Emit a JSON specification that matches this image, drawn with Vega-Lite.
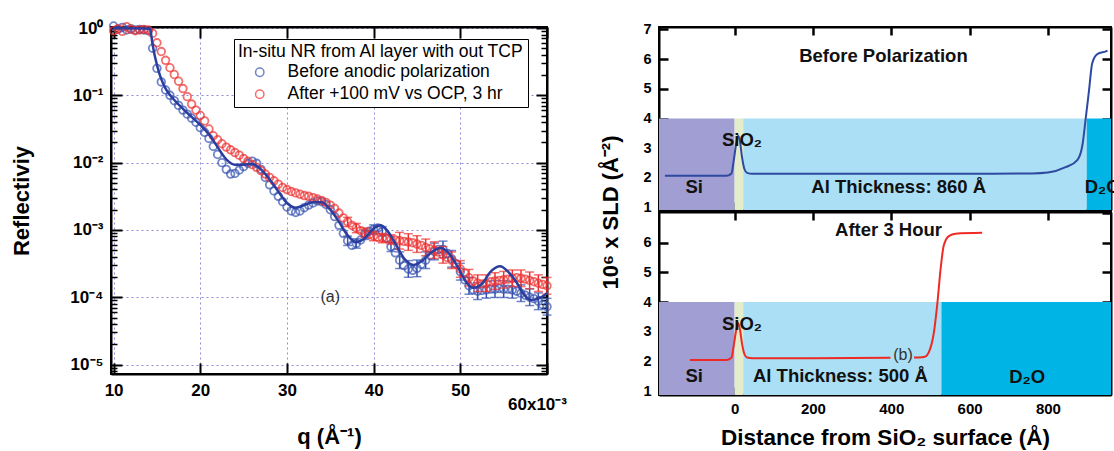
{
  "$schema": "https://vega.github.io/schema/vega-lite/v6.json",
  "padding": {"left": 9, "top": 17, "right": 0, "bottom": 0},
  "background": "white",
  "config": {
    "font": "Liberation Sans",
    "view": {"stroke": "black", "strokeWidth": 2},
    "axis": {"labelColor": "black", "titleColor": "black", "tickColor": "black", "domainColor": "black", "labelFontWeight": "bold", "titleFontWeight": "bold", "labelFont": "Liberation Sans", "titleFont": "Liberation Sans", "zindex": 1}
  },
  "datasets": {
    "blue": [{"q":10,"R":1.072},{"q":10.5,"R":0.955},{"q":11,"R":1.023},{"q":11.5,"R":0.933},{"q":12,"R":0.977},{"q":12.5,"R":0.933},{"q":13,"R":0.955},{"q":13.5,"R":0.933},{"q":14,"R":0.912},{"q":14.5,"R":0.501},{"q":15,"R":0.251},{"q":15.5,"R":0.158},{"q":16,"R":0.12},{"q":16.5,"R":0.1},{"q":17,"R":0.0832},{"q":17.5,"R":0.0708},{"q":18,"R":0.0603},{"q":18.5,"R":0.0525},{"q":19,"R":0.0457},{"q":19.5,"R":0.0398},{"q":20,"R":0.0331},{"q":20.5,"R":0.0282},{"q":21,"R":0.0229},{"q":21.5,"R":0.0174},{"q":22,"R":0.0132},{"q":22.5,"R":0.01},{"q":23,"R":0.00794},{"q":23.5,"R":0.00676},{"q":24,"R":0.00692},{"q":24.5,"R":0.00776},{"q":25,"R":0.00871},{"q":25.5,"R":0.00977},{"q":26,"R":0.0105},{"q":26.5,"R":0.00977},{"q":27,"R":0.00794},{"q":27.5,"R":0.00603},{"q":28,"R":0.00468},{"q":28.5,"R":0.0038},{"q":29,"R":0.00316},{"q":29.5,"R":0.00263},{"q":30,"R":0.00219},{"q":30.5,"R":0.00191},{"q":31,"R":0.00182},{"q":31.5,"R":0.00191},{"q":32,"R":0.00214},{"q":32.5,"R":0.00234},{"q":33,"R":0.00251},{"q":33.5,"R":0.00269},{"q":34,"R":0.00263},{"q":34.5,"R":0.0024},{"q":35,"R":0.002},{"q":35.5,"R":0.00158},{"q":36,"R":0.00117},{"q":36.5,"R":0.000891},{"q":37,"R":0.000692},{"q":37.5,"R":0.000589},{"q":38,"R":0.000631},{"q":38.5,"R":0.000708},{"q":39,"R":0.000851},{"q":39.5,"R":0.000955},{"q":40,"R":0.00102},{"q":40.5,"R":0.00107},{"q":41,"R":0.000955},{"q":41.5,"R":0.000759},{"q":42,"R":0.000562},{"q":42.5,"R":0.000457},{"q":43,"R":0.000355},{"q":43.5,"R":0.000295},{"q":44,"R":0.000263},{"q":44.5,"R":0.000251},{"q":45,"R":0.000269},{"q":45.5,"R":0.000309},{"q":46,"R":0.000355},{"q":46.5,"R":0.000417},{"q":47,"R":0.000479},{"q":47.5,"R":0.000513},{"q":48,"R":0.000513},{"q":48.5,"R":0.000447},{"q":49,"R":0.000372},{"q":49.5,"R":0.000316},{"q":50,"R":0.00024},{"q":50.5,"R":0.000182},{"q":51,"R":0.000148},{"q":51.5,"R":0.000129},{"q":52,"R":0.000123},{"q":52.5,"R":0.000126},{"q":53,"R":0.000129},{"q":53.5,"R":0.000132},{"q":54,"R":0.000132},{"q":54.5,"R":0.000135},{"q":55,"R":0.000132},{"q":55.5,"R":0.000132},{"q":56,"R":0.000129},{"q":56.5,"R":0.000123},{"q":57,"R":0.000115},{"q":57.5,"R":0.000107},{"q":58,"R":0.0001},{"q":58.5,"R":0.0000955},{"q":59,"R":0.0000871},{"q":59.5,"R":0.0000776},{"q":60,"R":0.0000724}],
    "red": [{"q":10,"R":0.912},{"q":10.5,"R":0.977},{"q":11,"R":0.891},{"q":11.5,"R":1.047},{"q":12,"R":0.955},{"q":12.5,"R":0.912},{"q":13,"R":0.933},{"q":13.5,"R":0.955},{"q":14,"R":0.933},{"q":14.5,"R":0.832},{"q":15,"R":0.603},{"q":15.5,"R":0.447},{"q":16,"R":0.331},{"q":16.5,"R":0.257},{"q":17,"R":0.204},{"q":17.5,"R":0.162},{"q":18,"R":0.126},{"q":18.5,"R":0.0955},{"q":19,"R":0.0741},{"q":19.5,"R":0.0603},{"q":20,"R":0.0501},{"q":20.5,"R":0.0417},{"q":21,"R":0.0316},{"q":21.5,"R":0.0251},{"q":22,"R":0.0219},{"q":22.5,"R":0.0191},{"q":23,"R":0.017},{"q":23.5,"R":0.0155},{"q":24,"R":0.0141},{"q":24.5,"R":0.0129},{"q":25,"R":0.0115},{"q":25.5,"R":0.0105},{"q":26,"R":0.00933},{"q":26.5,"R":0.00851},{"q":27,"R":0.00759},{"q":27.5,"R":0.00676},{"q":28,"R":0.00603},{"q":28.5,"R":0.00537},{"q":29,"R":0.00479},{"q":29.5,"R":0.00427},{"q":30,"R":0.00398},{"q":30.5,"R":0.00372},{"q":31,"R":0.00355},{"q":31.5,"R":0.00339},{"q":32,"R":0.00324},{"q":32.5,"R":0.00316},{"q":33,"R":0.00302},{"q":33.5,"R":0.00288},{"q":34,"R":0.00275},{"q":34.5,"R":0.00257},{"q":35,"R":0.00234},{"q":35.5,"R":0.00209},{"q":36,"R":0.00178},{"q":36.5,"R":0.00151},{"q":37,"R":0.00132},{"q":37.5,"R":0.00117},{"q":38,"R":0.00107},{"q":38.5,"R":0.000977},{"q":39,"R":0.000912},{"q":39.5,"R":0.000851},{"q":40,"R":0.000813},{"q":40.5,"R":0.000776},{"q":41,"R":0.000759},{"q":41.5,"R":0.000741},{"q":42,"R":0.000724},{"q":42.5,"R":0.000708},{"q":43,"R":0.000692},{"q":43.5,"R":0.000676},{"q":44,"R":0.000661},{"q":44.5,"R":0.000646},{"q":45,"R":0.000617},{"q":45.5,"R":0.000589},{"q":46,"R":0.00055},{"q":46.5,"R":0.000525},{"q":47,"R":0.000501},{"q":47.5,"R":0.000468},{"q":48,"R":0.000427},{"q":48.5,"R":0.000389},{"q":49,"R":0.000355},{"q":49.5,"R":0.000309},{"q":50,"R":0.000263},{"q":50.5,"R":0.000229},{"q":51,"R":0.000195},{"q":51.5,"R":0.000174},{"q":52,"R":0.000162},{"q":52.5,"R":0.000158},{"q":53,"R":0.000162},{"q":53.5,"R":0.00017},{"q":54,"R":0.000174},{"q":54.5,"R":0.000178},{"q":55,"R":0.000182},{"q":55.5,"R":0.000186},{"q":56,"R":0.000191},{"q":56.5,"R":0.000195},{"q":57,"R":0.000191},{"q":57.5,"R":0.000186},{"q":58,"R":0.000178},{"q":58.5,"R":0.00017},{"q":59,"R":0.000162},{"q":59.5,"R":0.000155},{"q":60,"R":0.000148}],
    "errBlue": [{"q":37,"lo":0.000588,"hi":0.00081},{"q":38,"lo":0.000536,"hi":0.000738},{"q":39,"lo":0.000723,"hi":0.000996},{"q":40,"lo":0.000867,"hi":0.00119},{"q":41,"lo":0.000812,"hi":0.00112},{"q":42,"lo":0.000478,"hi":0.000658},{"q":43,"lo":0.000267,"hi":0.000472},{"q":44,"lo":0.000198,"hi":0.00035},{"q":45,"lo":0.000202,"hi":0.000358},{"q":46,"lo":0.000267,"hi":0.000472},{"q":47,"lo":0.00036,"hi":0.000637},{"q":48,"lo":0.000386,"hi":0.000682},{"q":49,"lo":0.00028,"hi":0.000495},{"q":50,"lo":0.00018,"hi":0.000319},{"q":51,"lo":0.000111,"hi":0.000197},{"q":52,"lo":0.0000925,"hi":0.000164},{"q":53,"lo":0.000097,"hi":0.000172},{"q":54,"lo":0.0000992,"hi":0.000176},{"q":55,"lo":0.0000992,"hi":0.000176},{"q":56,"lo":0.000097,"hi":0.000172},{"q":57,"lo":0.0000865,"hi":0.000153},{"q":58,"lo":0.0000752,"hi":0.000133},{"q":59,"lo":0.0000655,"hi":0.000116},{"q":60,"lo":0.0000544,"hi":0.0000963}],
    "errRed": [{"q":37,"lo":0.00112,"hi":0.00154},{"q":38,"lo":0.00091,"hi":0.00125},{"q":39,"lo":0.000775,"hi":0.00107},{"q":40,"lo":0.000691,"hi":0.000951},{"q":41,"lo":0.000645,"hi":0.000888},{"q":42,"lo":0.000615,"hi":0.000847},{"q":43,"lo":0.00052,"hi":0.00092},{"q":44,"lo":0.000497,"hi":0.000879},{"q":45,"lo":0.000464,"hi":0.000821},{"q":46,"lo":0.000414,"hi":0.000732},{"q":47,"lo":0.000377,"hi":0.000666},{"q":48,"lo":0.000321,"hi":0.000568},{"q":49,"lo":0.000267,"hi":0.000472},{"q":50,"lo":0.000198,"hi":0.00035},{"q":51,"lo":0.000147,"hi":0.000259},{"q":52,"lo":0.000122,"hi":0.000215},{"q":53,"lo":0.000122,"hi":0.000215},{"q":54,"lo":0.000131,"hi":0.000231},{"q":55,"lo":0.000137,"hi":0.000242},{"q":56,"lo":0.000144,"hi":0.000254},{"q":57,"lo":0.000144,"hi":0.000254},{"q":58,"lo":0.000134,"hi":0.000237},{"q":59,"lo":0.000122,"hi":0.000215},{"q":60,"lo":0.000111,"hi":0.000197}],
    "fit": [{"q":10,"R":1},{"q":14.2,"R":0.977},{"q":14.5,"R":0.562},{"q":15,"R":0.282},{"q":15.5,"R":0.174},{"q":16,"R":0.126},{"q":17,"R":0.0851},{"q":18,"R":0.0631},{"q":19,"R":0.0479},{"q":20,"R":0.0363},{"q":21,"R":0.0263},{"q":22,"R":0.017},{"q":23,"R":0.0112},{"q":24,"R":0.00933},{"q":25,"R":0.00933},{"q":26,"R":0.00955},{"q":27,"R":0.00794},{"q":28,"R":0.00562},{"q":29,"R":0.00372},{"q":30,"R":0.00251},{"q":31,"R":0.00214},{"q":32,"R":0.00234},{"q":33,"R":0.00257},{"q":34,"R":0.00257},{"q":35,"R":0.002},{"q":36,"R":0.00132},{"q":37,"R":0.000832},{"q":38,"R":0.000661},{"q":39,"R":0.000759},{"q":40,"R":0.00105},{"q":40.8,"R":0.00117},{"q":41.5,"R":0.001},{"q":42.5,"R":0.000631},{"q":43.5,"R":0.00038},{"q":44.6,"R":0.000302},{"q":45.5,"R":0.000339},{"q":46.5,"R":0.000447},{"q":47.7,"R":0.000537},{"q":48.7,"R":0.000447},{"q":49.7,"R":0.000282},{"q":50.7,"R":0.000166},{"q":51.5,"R":0.000138},{"q":52.5,"R":0.000158},{"q":53.5,"R":0.00024},{"q":54.6,"R":0.000288},{"q":55.5,"R":0.00024},{"q":56.5,"R":0.000166},{"q":57.3,"R":0.000112},{"q":58.1,"R":0.0000912},{"q":59,"R":0.0000955},{"q":60,"R":0.000115}],
    "regTop": [{"layer":"Si","x0":-193,"x1":0,"lo":0.92,"hi":4.0},{"layer":"SiO2","x0":0,"x1":22,"lo":0.92,"hi":4.0},{"layer":"Al","x0":22,"x1":899,"lo":0.92,"hi":4.0},{"layer":"D2O","x0":899,"x1":961,"lo":0.92,"hi":4.0}],
    "regBot": [{"layer":"Si","x0":-193,"x1":0,"lo":0.87,"hi":4.0},{"layer":"SiO2","x0":0,"x1":22,"lo":0.87,"hi":4.0},{"layer":"Al","x0":22,"x1":528,"lo":0.87,"hi":4.0},{"layer":"D2O","x0":528,"x1":961,"lo":0.87,"hi":4.0}],
    "sldTop": [{"z":-178,"v":2.07},{"z":-100,"v":2.07},{"z":-20,"v":2.07},{"z":-8,"v":2.15},{"z":-2,"v":2.6},{"z":4,"v":3.15},{"z":9,"v":3.42},{"z":14,"v":3.2},{"z":19,"v":2.7},{"z":25,"v":2.3},{"z":32,"v":2.17},{"z":45,"v":2.14},{"z":300,"v":2.14},{"z":600,"v":2.14},{"z":760,"v":2.15},{"z":800,"v":2.18},{"z":845,"v":2.36},{"z":875,"v":2.6},{"z":888,"v":3.1},{"z":896,"v":3.95},{"z":905,"v":4.96},{"z":913,"v":5.86},{"z":926,"v":6.17},{"z":948,"v":6.26},{"z":952,"v":6.28}],
    "sldBot": [{"seg":1,"z":-114,"v":2.05},{"seg":1,"z":-20,"v":2.05},{"seg":1,"z":-8,"v":2.12},{"seg":1,"z":-2,"v":2.55},{"seg":1,"z":4,"v":3.05},{"seg":1,"z":9,"v":3.29},{"seg":1,"z":14,"v":3.05},{"seg":1,"z":19,"v":2.6},{"seg":1,"z":25,"v":2.25},{"seg":1,"z":32,"v":2.13},{"seg":1,"z":45,"v":2.11},{"seg":1,"z":200,"v":2.11},{"seg":1,"z":398,"v":2.12},{"seg":2,"z":458,"v":2.13},{"seg":2,"z":478,"v":2.14},{"seg":2,"z":488,"v":2.17},{"seg":2,"z":496,"v":2.31},{"seg":2,"z":509,"v":2.99},{"seg":2,"z":518,"v":4.0},{"seg":2,"z":526,"v":5.12},{"seg":2,"z":534,"v":5.9},{"seg":2,"z":547,"v":6.22},{"seg":2,"z":564,"v":6.3},{"seg":2,"z":632,"v":6.33}]
  },
  "resolve": {"scale": {"color": "independent"}},
  "bounds": "flush",
  "spacing": 112,
  "hconcat": [
    {
      "width": 436,
      "height": 347,
      "layer": [
        {
          "data": {"name": "blue"},
          "mark": {"type": "point", "filled": false, "size": 58, "strokeWidth": 1.8},
          "encoding": {
            "x": {"field": "q", "type": "quantitative", "scale": {"domain": [9.7, 60], "nice": false, "zero": false},
              "axis": {"orient": "bottom", "values": [10, 20, 30, 40, 50, 60], "title": "q (Å⁻¹)", "titleFontSize": 22, "titlePadding": 14,
                "labelFontSize": 17, "labelFlush": false, "labelExpr": "datum.value == 60 ? '60x10⁻³' : datum.label",
                "labelOffset": {"condition": {"test": "datum.value == 60", "value": -10}, "value": 0},
                "labelPadding": {"condition": {"test": "datum.value == 60", "value": 33}, "value": 19},
                "tickSize": -11, "tickWidth": 2, "grid": true, "gridColor": "#8c8cd8", "gridDash": [2, 3], "gridWidth": 1,
                "domain": true, "domainWidth": 2}},
            "y": {"field": "R", "type": "quantitative", "scale": {"type": "log", "domain": [0.00000724, 1.035], "nice": false},
              "axis": {"orient": "left", "values": [0.000008,0.000009,0.00001,0.00002,0.00003,0.00004,0.00005,0.00006,0.00007,0.00008,0.00009,0.0001,0.0002,0.0003,0.0004,0.0005,0.0006,0.0007,0.0008,0.0009,0.001,0.002,0.003,0.004,0.005,0.006,0.007,0.008,0.009,0.01,0.02,0.03,0.04,0.05,0.06,0.07,0.08,0.09,0.1,0.2,0.3,0.4,0.5,0.6,0.7,0.8,0.9,1],
                "labelExpr": "abs(log(datum.value)/LN10 - round(log(datum.value)/LN10)) < 0.001 ? '10' + ['⁰','⁻¹','⁻²','⁻³','⁻⁴','⁻⁵'][-round(log(datum.value)/LN10)] : ''",
                "labelOverlap": false, "labelFontSize": 17, "labelPadding": 19,
                "tickSize": {"condition": {"test": "abs(log(datum.value)/LN10 - round(log(datum.value)/LN10)) < 0.001", "value": -11}, "value": -6},
                "tickWidth": {"condition": {"test": "abs(log(datum.value)/LN10 - round(log(datum.value)/LN10)) < 0.001", "value": 2}, "value": 1.5},
                "grid": true, "gridColor": "#8c8cd8", "gridDash": [2, 3], "gridWidth": 1,
                "gridOpacity": {"condition": {"test": "abs(log(datum.value)/LN10 - round(log(datum.value)/LN10)) < 0.001", "value": 1}, "value": 0},
                "title": "Reflectiviy", "titleFontSize": 22, "titlePadding": 36, "domain": true, "domainWidth": 2}},
            "color": {"datum": "Before anodic polarization", "type": "nominal",
              "scale": {"domain": ["Before anodic polarization", "After +100 mV vs OCP, 3 hr"], "range": ["#3552b0", "#ee3030"]},
              "legend": {"orient": "none", "legendX": 123, "legendY": 12, "title": "In-situ NR from Al layer with out TCP",
                "titleFontSize": 17.5, "titleFontWeight": "normal", "titleFont": "Liberation Sans", "titleColor": "black", "titlePadding": 3, "titleLimit": 500,
                "labelFontSize": 17.5, "labelFont": "Liberation Sans", "labelColor": "black", "labelOffset": 19, "labelLimit": 500,
                "symbolType": "circle", "symbolSize": 70, "symbolStrokeWidth": 1.5, "symbolOffset": 13,
                "strokeColor": "black", "fillColor": "white", "padding": 4, "rowPadding": 3}}
          }
        },
        {
          "data": {"name": "errBlue"},
          "mark": {"type": "errorbar", "color": "#3552b0", "ticks": {"size": 9, "strokeWidth": 1.5}, "thickness": 1.5},
          "encoding": {
            "x": {"field": "q", "type": "quantitative", "axis": null},
            "y": {"field": "lo", "type": "quantitative", "axis": null, "title": null},
            "y2": {"field": "hi"}
          }
        },
        {
          "data": {"name": "red"},
          "mark": {"type": "point", "filled": false, "size": 58, "strokeWidth": 1.8},
          "encoding": {
            "x": {"field": "q", "type": "quantitative", "axis": null},
            "y": {"field": "R", "type": "quantitative", "axis": null},
            "color": {"datum": "After +100 mV vs OCP, 3 hr", "type": "nominal"}
          }
        },
        {
          "data": {"name": "errRed"},
          "mark": {"type": "errorbar", "color": "#ee3030", "ticks": {"size": 9, "strokeWidth": 1.5}, "thickness": 1.5},
          "encoding": {
            "x": {"field": "q", "type": "quantitative", "axis": null},
            "y": {"field": "lo", "type": "quantitative", "axis": null, "title": null},
            "y2": {"field": "hi"}
          }
        },
        {
          "data": {"name": "fit"},
          "mark": {"type": "line", "color": "#2b3e9e", "strokeWidth": 2.5, "interpolate": "monotone"},
          "encoding": {
            "x": {"field": "q", "type": "quantitative",
              "axis": {"orient": "top", "values": [10, 20, 30, 40, 50, 60], "labels": false, "title": null, "grid": false, "tickSize": -11, "tickWidth": 2, "domain": true, "domainWidth": 2}},
            "y": {"field": "R", "type": "quantitative",
              "axis": {"orient": "right", "values": [0.000008,0.000009,0.00001,0.00002,0.00003,0.00004,0.00005,0.00006,0.00007,0.00008,0.00009,0.0001,0.0002,0.0003,0.0004,0.0005,0.0006,0.0007,0.0008,0.0009,0.001,0.002,0.003,0.004,0.005,0.006,0.007,0.008,0.009,0.01,0.02,0.03,0.04,0.05,0.06,0.07,0.08,0.09,0.1,0.2,0.3,0.4,0.5,0.6,0.7,0.8,0.9,1],
                "labels": false, "title": null, "grid": false,
                "tickSize": {"condition": {"test": "abs(log(datum.value)/LN10 - round(log(datum.value)/LN10)) < 0.001", "value": -11}, "value": -6},
                "tickWidth": {"condition": {"test": "abs(log(datum.value)/LN10 - round(log(datum.value)/LN10)) < 0.001", "value": 2}, "value": 1.5},
                "domain": true, "domainWidth": 2}}
          }
        },
        {
          "data": {"values": [{"q": 35, "R": 0.0001, "t": "(a)"}]},
          "mark": {"type": "text", "fontSize": 16, "color": "#333333", "font": "Liberation Sans"},
          "encoding": {
            "x": {"field": "q", "type": "quantitative", "axis": null},
            "y": {"field": "R", "type": "quantitative", "axis": null},
            "text": {"field": "t"}
          }
        }
      ]
    },
    {
      "vconcat": [
        {
          "width": 452,
          "height": 183,
          "layer": [
            {
              "data": {"name": "regTop"},
              "mark": {"type": "rect"},
              "encoding": {
                "x": {"field": "x0", "type": "quantitative", "scale": {"domain": [-193, 961], "nice": false, "zero": false},
                  "axis": {"orient": "bottom", "values": [0, 200, 400, 600, 800], "labels": false, "title": null, "grid": false, "tickSize": -8, "tickWidth": 2.5, "domain": true, "domainWidth": 2}},
                "x2": {"field": "x1"},
                "y": {"field": "lo", "type": "quantitative", "scale": {"domain": [0.92, 7.08], "nice": false, "zero": false},
                  "axis": {"orient": "left", "values": [1, 2, 3, 4, 5, 6, 7], "labelFontSize": 14.5, "labelPadding": 17, "title": null, "grid": false, "tickSize": -9, "tickWidth": 2.5, "domain": true, "domainWidth": 2}},
                "y2": {"field": "hi"},
                "color": {"field": "layer", "type": "nominal", "scale": {"domain": ["Si", "SiO2", "Al", "D2O"], "range": ["#a09ed2", "#e4ecc9", "#aadff5", "#00b5e5"]}, "legend": null}
              }
            },
            {
              "data": {"name": "sldTop"},
              "mark": {"type": "line", "color": "#2e4aa0", "strokeWidth": 2, "interpolate": "monotone"},
              "encoding": {
                "x": {"field": "z", "type": "quantitative",
                  "axis": {"orient": "top", "values": [0, 200, 400, 600, 800], "labels": false, "title": null, "grid": false, "tickSize": -8, "tickWidth": 2.5, "domain": true, "domainWidth": 2}},
                "y": {"field": "v", "type": "quantitative",
                  "axis": {"orient": "right", "values": [1, 2, 3, 4, 5, 6, 7], "labels": false, "title": null, "grid": false, "tickSize": -9, "tickWidth": 2.5, "domain": true, "domainWidth": 2}}
              }
            },
            {
              "data": {"values": [{"z": 380, "v": 6.12, "t": "Before Polarization"}, {"z": 19, "v": 3.26, "t": "SiO₂"}, {"z": -103, "v": 1.68, "t": "Si"}, {"z": 419, "v": 1.68, "t": "Al Thickness: 860 Å"}]},
              "mark": {"type": "text", "font": "Liberation Sans", "fontWeight": "bold", "fontSize": 18.5, "color": "#111111", "baseline": "middle"},
              "encoding": {
                "x": {"field": "z", "type": "quantitative", "axis": null},
                "y": {"field": "v", "type": "quantitative", "axis": null},
                "text": {"field": "t"}
              }
            },
            {
              "data": {"values": [{"z": 894, "v": 1.68, "t": "D₂O"}]},
              "mark": {"type": "text", "font": "Liberation Sans", "fontWeight": "bold", "fontSize": 18.5, "color": "#111111", "baseline": "middle", "align": "left"},
              "encoding": {
                "x": {"field": "z", "type": "quantitative", "axis": null},
                "y": {"field": "v", "type": "quantitative", "axis": null},
                "text": {"field": "t"}
              }
            }
          ]
        },
        {
          "width": 452,
          "height": 183,
          "layer": [
            {
              "data": {"name": "regBot"},
              "mark": {"type": "rect"},
              "encoding": {
                "x": {"field": "x0", "type": "quantitative", "scale": {"domain": [-193, 961], "nice": false, "zero": false},
                  "axis": {"orient": "bottom", "values": [0, 200, 400, 600, 800], "labelFontSize": 15, "labelPadding": 14, "title": "Distance from SiO₂ surface (Å)", "titleFontSize": 22.5, "titlePadding": 10, "grid": false, "tickSize": -8, "tickWidth": 2.5, "domain": true, "domainWidth": 2}},
                "x2": {"field": "x1"},
                "y": {"field": "lo", "type": "quantitative", "scale": {"domain": [0.87, 7.03], "nice": false, "zero": false},
                  "axis": {"orient": "left", "values": [1, 2, 3, 4, 5, 6], "labelFontSize": 14.5, "labelPadding": 17, "title": "10⁶ x SLD (Å⁻²)", "titleFontSize": 22, "titleY": 0, "titlePadding": 20, "grid": false, "tickSize": -9, "tickWidth": 2.5, "domain": true, "domainWidth": 2}},
                "y2": {"field": "hi"},
                "color": {"field": "layer", "type": "nominal", "scale": {"domain": ["Si", "SiO2", "Al", "D2O"], "range": ["#a09ed2", "#e4ecc9", "#aadff5", "#00b5e5"]}, "legend": null}
              }
            },
            {
              "data": {"name": "sldBot"},
              "mark": {"type": "line", "color": "#ee2a24", "strokeWidth": 2, "interpolate": "monotone"},
              "encoding": {
                "x": {"field": "z", "type": "quantitative",
                  "axis": {"orient": "top", "values": [0, 200, 400, 600, 800], "labels": false, "title": null, "grid": false, "tickSize": -8, "tickWidth": 2.5, "domain": true, "domainWidth": 2}},
                "y": {"field": "v", "type": "quantitative",
                  "axis": {"orient": "right", "values": [1, 2, 3, 4, 5, 6, 7], "labels": false, "title": null, "grid": false, "tickSize": -9, "tickWidth": 2.5, "domain": true, "domainWidth": 2}},
                "detail": {"field": "seg", "type": "nominal"}
              }
            },
            {
              "data": {"values": [{"z": 393, "v": 6.41, "t": "After 3 Hour"}, {"z": 19, "v": 3.27, "t": "SiO₂"}, {"z": -103, "v": 1.5, "t": "Si"}, {"z": 270, "v": 1.5, "t": "Al Thickness: 500 Å"}, {"z": 747, "v": 1.47, "t": "D₂O"}]},
              "mark": {"type": "text", "font": "Liberation Sans", "fontWeight": "bold", "fontSize": 18.5, "color": "#111111", "baseline": "middle"},
              "encoding": {
                "x": {"field": "z", "type": "quantitative", "axis": null},
                "y": {"field": "v", "type": "quantitative", "axis": null},
                "text": {"field": "t"}
              }
            },
            {
              "data": {"values": [{"z": 430, "v": 2.21, "t": "(b)"}]},
              "mark": {"type": "text", "font": "Liberation Sans", "fontSize": 16, "color": "#333333", "baseline": "middle"},
              "encoding": {
                "x": {"field": "z", "type": "quantitative", "axis": null},
                "y": {"field": "v", "type": "quantitative", "axis": null},
                "text": {"field": "t"}
              }
            }
          ]
        }
      ],
      "spacing": 2,
      "bounds": "flush"
    }
  ]
}
